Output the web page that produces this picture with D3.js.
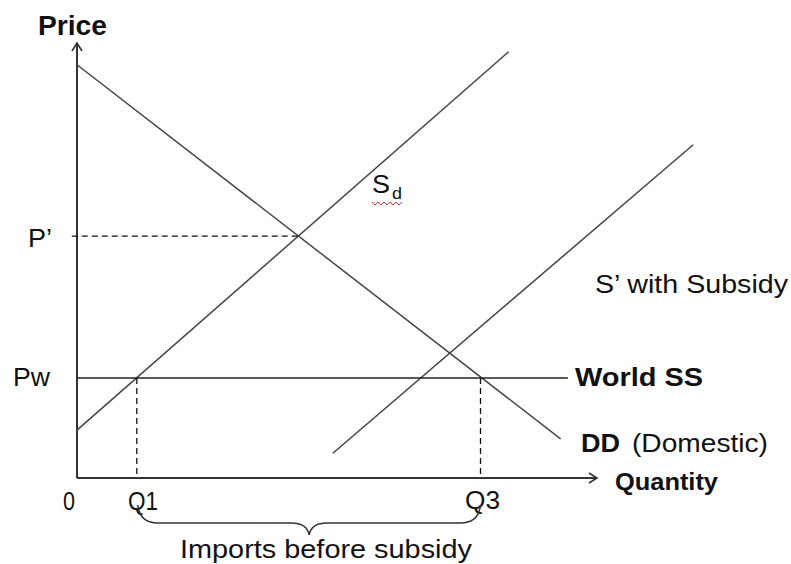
<!DOCTYPE html>
<html><head><meta charset="utf-8">
<script src="https://cdn.jsdelivr.net/npm/d3@7"></script>
<style>body{margin:0;background:#fff}svg{display:block}text{font-family:"Liberation Sans",Arial,sans-serif;fill:#111}</style>
</head><body>
<script>
// Data (quantity 0..100, price 0..100 units)
const demandDD = [[0, 95], [93, 9]];
const supplyDomestic = [[0, 11], [83, 98]];
const supplySubsidy = [[49.2, 5.7], [118.5, 76.6]];
const worldPrice = 23;          // Pw
const worldLineEnd = 94.4;
const pPrime = 55.6;            // P'
const pPrimeQ = 42.6;
const q1 = 11.5;
const q3 = 77.6;

const W = 791, H = 564;
const svg = d3.select("body").append("svg").attr("width", W).attr("height", H);
const x = d3.scaleLinear().domain([0, 100]).range([77, 597]);
const y = d3.scaleLinear().domain([0, 100]).range([478, 43]);
const line = d3.line().x(d => x(d[0])).y(d => y(d[1]));

// axes
svg.append("path").attr("d", `M${x(0)},${y(0)}V${y(100)}M${x(0)},${y(0)}H${x(100)}`)
  .attr("stroke", "#333").attr("stroke-width", 2).attr("fill", "none");
svg.append("path").attr("d", `M${x(0)-5},${y(100)+8}L${x(0)},${y(100)}L${x(0)+5},${y(100)+8}`)
  .attr("stroke", "#333").attr("stroke-width", 1.6).attr("fill", "none");
svg.append("path").attr("d", `M${x(100)-8},${y(0)-5}L${x(100)},${y(0)}L${x(100)-8},${y(0)+5}`)
  .attr("stroke", "#333").attr("stroke-width", 1.6).attr("fill", "none");

// curves
[demandDD, supplyDomestic, supplySubsidy].forEach(d => {
  svg.append("path").attr("d", line(d)).attr("stroke", "#444").attr("stroke-width", 1.5).attr("fill", "none");
});
svg.append("path").attr("d", line([[0, worldPrice], [worldLineEnd, worldPrice]]))
  .attr("stroke", "#222").attr("stroke-width", 1.5).attr("fill", "none");

// dashed guides
const dash = (d) => svg.append("path").attr("d", line(d)).attr("stroke", "#111")
  .attr("stroke-width", 1.3).attr("stroke-dasharray", "6,4").attr("fill", "none");
dash([[-1, pPrime], [pPrimeQ, pPrime]]);
dash([[q1, worldPrice], [q1, 0]]);
dash([[q3, worldPrice], [q3, 0]]);

// labels
function label(t, px, py, w, opts = {}) {
  const el = svg.append("text").attr("x", px).attr("y", py).text(t)
    .attr("font-size", opts.size || 25).attr("font-weight", opts.bold ? "bold" : "normal");
  if (w) el.attr("textLength", w).attr("lengthAdjust", "spacingAndGlyphs");
  return el;
}
label("Price", 38, 35, 69, {bold: true, size: 27});
label("P\u2019", 28, 247, 24);
label("Pw", 13, 386, 37);
label("0", 63, 510, 12);
label("Q1", 128, 510, 30);
label("Q3", 465, 509, 35);
label("Quantity", 615, 490, 103, {bold: true, size: 24});
label("DD", 581, 452, 39, {bold: true});
label("(Domestic)", 632, 452, 136);
label("World SS", 575, 386, 128, {bold: true});
label("S\u2019 with Subsidy", 595, 293, 193);
label("S", 372, 193, 18);
label("d", 392, 199, 10, {size: 17});
label("Imports before subsidy", 180, 558, 292);

// spell-check squiggle under Sd
let sq = "M372,202";
for (let i = 0; i < 10; i++) sq += `L${375 + i * 3},${i % 2 ? 202 : 205}`;
svg.append("path").attr("d", sq).attr("stroke", "#e33").attr("stroke-width", 1).attr("fill", "none");

// brace
const bx1 = x(q1) + 1, bx2 = x(q3), bm = (bx1 + bx2) / 2, by = 523;
svg.append("path")
  .attr("d", `M${bx1},505 Q${bx1+2},${by} ${bx1+20},${by} L${bm-18},${by} Q${bm-2},${by} ${bm},${by+12} Q${bm+2},${by} ${bm+18},${by} L${bx2-20},${by} Q${bx2-2},${by} ${bx2},505`)
  .attr("stroke", "#333").attr("stroke-width", 1.5).attr("fill", "none");
</script>
</body></html>
